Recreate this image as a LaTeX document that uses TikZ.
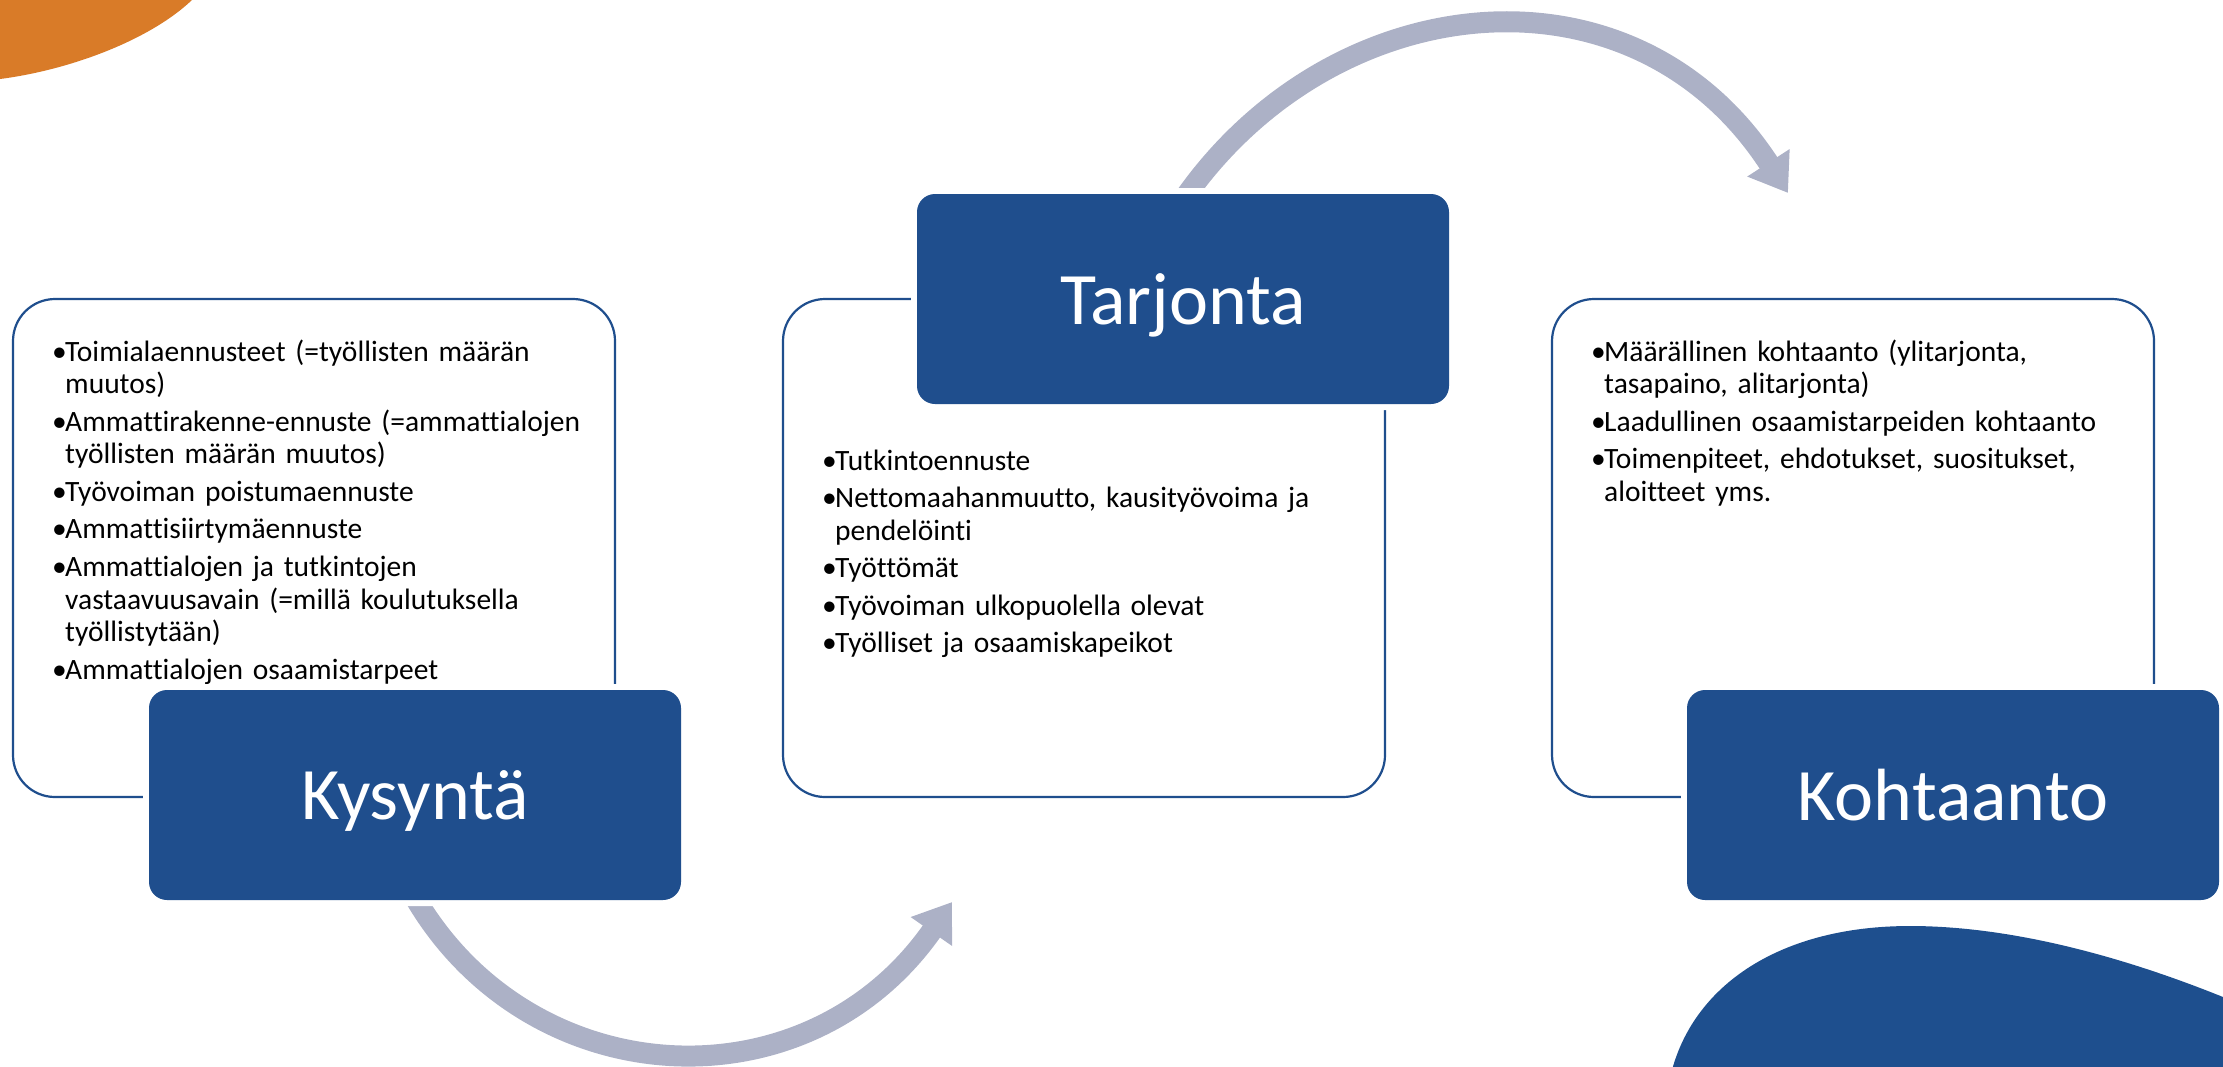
\documentclass[tikz,border=0pt]{standalone}
\usepackage{fontspec}
\setmainfont{Carlito}[Ligatures=NoCommon]
\usetikzlibrary{arrows.meta}
\definecolor{boxblue}{RGB}{31,78,141}
\definecolor{arrowgray}{RGB}{172,177,198}
\definecolor{blobblue}{RGB}{30,79,142}
\definecolor{orng}{RGB}{217,123,40}
\newcommand\bitem[1]{\hangindent=13pt\hangafter=1\noindent\makebox[13pt][l]{\textbullet}#1\par}
\begin{document}
\begin{tikzpicture}[x=1pt,y=-1pt,
  panel/.style={draw=boxblue, line width=2.2pt, rounded corners=42pt, fill=white,
    inner sep=0pt, outer sep=0pt, anchor=north west, minimum width=602pt, minimum height=498pt},
  titlebox/.style={fill=boxblue, rounded corners=18pt, preaction={draw=white, line width=12pt},
    text=white, font=\fontsize{74}{82}\selectfont, text depth=0pt, inner sep=0pt, outer sep=0pt,
    anchor=north west, minimum width=532pt, minimum height=210pt},
  bullets/.style={text width=600pt, inner sep=0pt, anchor=base west,
    font=\fontsize{29.5}{32.7}\selectfont},
  flow/.style={draw=arrowgray, line width=21pt, -{Triangle[length=36pt,width=48pt]}}]
\useasboundingbox (0,0) rectangle (2223,1066);
\begin{scope}
\clip (0,0) rectangle (2223,1066);
\fill[orng] (-20,84) -- (0,79) .. controls (70,70) and (150,40) .. (192,0) -- (215,-25) -- (-20,-25) -- cycle;
\fill[blobblue] (1672,1070) .. controls (1695,985) and (1780,926) .. (1910,926)
  .. controls (2020,926) and (2140,962) .. (2240,1004) -- (2240,1080) -- cycle;
\end{scope}

% decorative flow arrows
\coordinate (topstart) at (1183,200);
\coordinate (toptip) at (1788,193);
\coordinate (botstart) at (414,896);
\coordinate (bottip) at (952,902);
\draw[flow] (topstart) .. controls (1332,-15) and (1633,-46) .. (toptip);
\draw[flow] (botstart) .. controls (529,1095) and (806,1111) .. (bottip);

% panels
\node[panel] (demandpanel) at (13,299) {};
\node[panel] (supplypanel) at (783,299) {};
\node[panel] (matchpanel) at (1552,299) {};

\node[bullets] (demandtext) at (52,361) {\setlength{\parskip}{4.8pt}\raggedright
\bitem{Toimialaennusteet (=työllisten määrän\newline muutos)}
\bitem{Ammattirakenne-ennuste (=ammattialojen\newline työllisten määrän muutos)}
\bitem{Työvoiman poistumaennuste}
\bitem{Ammattisiirtymäennuste}
\bitem{Ammattialojen ja tutkintojen\newline vastaavuusavain (=millä koulutuksella\newline työllistytään)}
\bitem{Ammattialojen osaamistarpeet}};

\node[bullets] (supplytext) at (822,470) {\setlength{\parskip}{4.8pt}\raggedright
\bitem{Tutkintoennuste}
\bitem{Nettomaahanmuutto, kausityövoima ja\newline pendelöinti}
\bitem{Työttömät}
\bitem{Työvoiman ulkopuolella olevat}
\bitem{Työlliset ja osaamiskapeikot}};

\node[bullets] (matchtext) at (1591,361) {\setlength{\parskip}{4.8pt}\raggedright
\bitem{Määrällinen kohtaanto (ylitarjonta,\newline tasapaino, alitarjonta)}
\bitem{Laadullinen osaamistarpeiden kohtaanto}
\bitem{Toimenpiteet, ehdotukset, suositukset,\newline aloitteet yms.}};

% title boxes
\node[titlebox] (demand) at (149,690) {Kysyntä};
\node[titlebox] (supply) at (917,194) {Tarjonta};
\node[titlebox] (match) at (1687,690) {Kohtaanto};
\end{tikzpicture}
\end{document}
